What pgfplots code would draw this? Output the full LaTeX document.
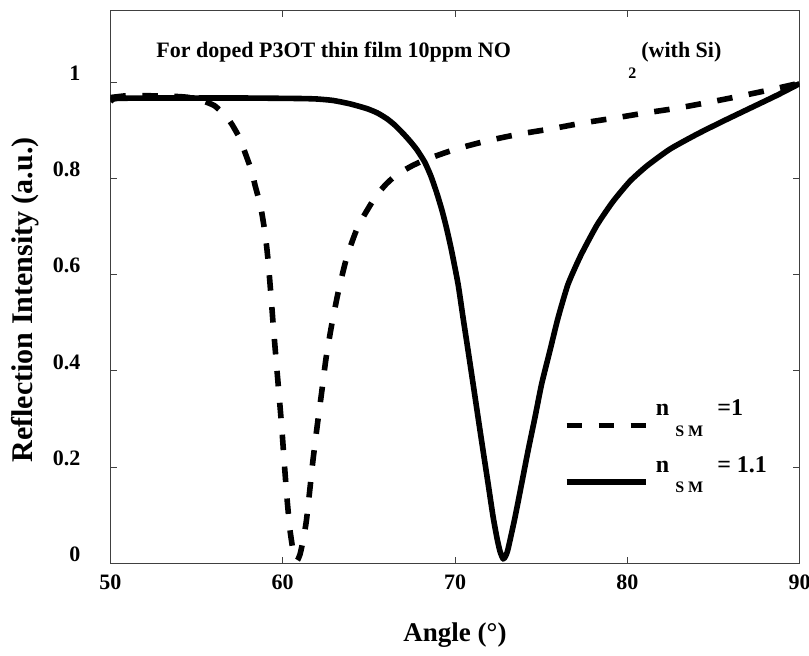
\documentclass[border=0pt]{standalone}
\usepackage{fontspec}
\setmainfont{Liberation Serif}
\usepackage{pgfplots}
\pgfplotsset{compat=1.18}

\definecolor{axcol}{HTML}{404040}

% legend text: n, raised; S M, lowered; value, raised
\newcommand{\nsm}[1]{\smash{\raisebox{4.75pt}{n}}\hspace{3pt}%
  \smash{\raisebox{-5.5pt}{\fontsize{8}{8}\selectfont S M}}\hspace{7pt}%
  \smash{\raisebox{4.75pt}{#1}}\rule[-7pt]{0pt}{14pt}}

\begin{document}
\begin{tikzpicture}
\begin{axis}[
  at={(0,0)}, anchor=south west,
  scale only axis, width=344.6pt, height=276.65pt,
  xmin=50, xmax=90, ymin=0, ymax=1.15,
  xtick={50,60,70,80,90},
  xticklabels={50,60,70,80,90},
  ytick={0,0.2,0.4,0.6,0.8,1},
  yticklabels={0,0.2,0.4,0.6,0.8,1},
  tick align=inside,
  major tick length=3.3pt,
  axis line style={axcol, line width=0.5pt},
  tick style={axcol, line width=0.5pt},
  tick label style={font=\fontsize{11}{12}\selectfont\bfseries},
  yticklabel style={xshift=-11.5pt, yshift=4.5pt},
  xticklabel style={yshift=-2pt},
  xlabel={Angle (°)},
  ylabel={Reflection Intensity (a.u.)},
  xlabel style={at={(axis description cs:0.5,-0.13)}, anchor=center,
    font=\fontsize{13.5}{16}\selectfont\bfseries},
  ylabel style={at={(axis description cs:-0.1239,0.476)}, anchor=center,
    font=\fontsize{15}{17}\selectfont\bfseries},
  legend style={at={(0.6574,0.2753)}, anchor=north west, draw=none, fill=none,
    inner sep=0pt, row sep=14.25pt, column sep=3.5pt,
    nodes={inner sep=0pt, text depth=7pt, text height=7pt},
    font=\fontsize{12}{12}\selectfont\bfseries},
  legend cell align=left,
  legend image code/.code={\draw[#1] (0pt,0pt) -- (39.75pt,0pt);},
]
% n_SM = 1
\addplot[black, line width=2.8pt, dash pattern=on 7.75pt off 8.25pt,
  smooth, tension=0.35] coordinates {
  (50,0.968) (51,0.972) (52,0.972) (53,0.971) (54,0.970) (54.6,0.968)
  (55.3,0.962) (56.0,0.952) (56.4,0.940) (56.8,0.925) (57.06,0.912)
  (57.5,0.884) (57.8,0.855) (58.2,0.815) (58.4,0.785) (58.7,0.745)
  (58.85,0.715) (59.0,0.680) (59.15,0.630) (59.3,0.565) (59.45,0.495)
  (59.6,0.43) (59.8,0.345) (59.95,0.28) (60.1,0.205) (60.25,0.135)
  (60.42,0.07) (60.6,0.027) (60.75,0.009) (60.85,0.006) (61.0,0.018)
  (61.2,0.05) (61.38,0.09) (61.55,0.145) (61.76,0.215) (62.0,0.285)
  (62.26,0.355) (62.51,0.425) (62.84,0.495) (63.23,0.565) (63.71,0.635)
  (64.37,0.70) (65.35,0.76) (66.0,0.788) (66.63,0.808) (67.5,0.826)
  (68.3,0.839) (70.06,0.861) (71.86,0.878) (73.72,0.892) (75.58,0.903)
  (77.38,0.915) (79.18,0.925) (81.04,0.936) (82.9,0.946) (84.7,0.958)
  (86.55,0.971) (88.4,0.985) (90,0.998)
};
\addlegendentry{\nsm{=1}}
% n_SM = 1.1
\addplot[black, line width=2.8pt, line join=round, smooth, tension=0.35] coordinates {
  (50,0.960) (50.3,0.966) (52,0.967) (55,0.967) (58,0.967) (61.04,0.966)
  (62.0,0.965) (62.92,0.962) (63.9,0.955) (64.89,0.945) (65.5,0.936)
  (66.05,0.924) (66.5,0.911) (67.0,0.893) (67.4,0.877) (67.78,0.86)
  (68.24,0.834) (68.6,0.805) (68.94,0.77) (69.25,0.733) (69.52,0.695)
  (69.8,0.65) (70.18,0.58) (70.47,0.51) (70.76,0.442) (71.05,0.373)
  (71.34,0.303) (71.63,0.234) (71.92,0.166) (72.21,0.097) (72.45,0.05)
  (72.62,0.024) (72.8,0.009) (72.95,0.016) (73.08,0.03) (73.48,0.095)
  (73.87,0.166) (74.24,0.234) (74.64,0.303) (75.03,0.373) (75.51,0.442)
  (75.98,0.51) (76.56,0.58) (77.3,0.640) (78.24,0.703) (79.17,0.752)
  (80.15,0.794) (81.14,0.826) (82.48,0.861) (84.05,0.892) (85.56,0.919)
  (87.13,0.946) (88.7,0.973) (90,0.997)
};
\addlegendentry{\nsm{= 1.1}}

\node[anchor=base west, inner sep=0pt, font=\fontsize{11}{13}\selectfont\bfseries]
  at (axis description cs:0.0662,0.9138) {For doped P3OT thin film 10ppm NO};
\node[anchor=base west, inner sep=0pt, font=\fontsize{8}{9}\selectfont\bfseries]
  at (axis description cs:0.751,0.8753) {2};
\node[anchor=base west, inner sep=0pt, font=\fontsize{11}{13}\selectfont\bfseries]
  at (axis description cs:0.7698,0.9138) {(with Si)};
\end{axis}
\pgfresetboundingbox
\path (-55.2pt,-45.85pt) rectangle (349.3pt,281.65pt);
\end{tikzpicture}
\end{document}
